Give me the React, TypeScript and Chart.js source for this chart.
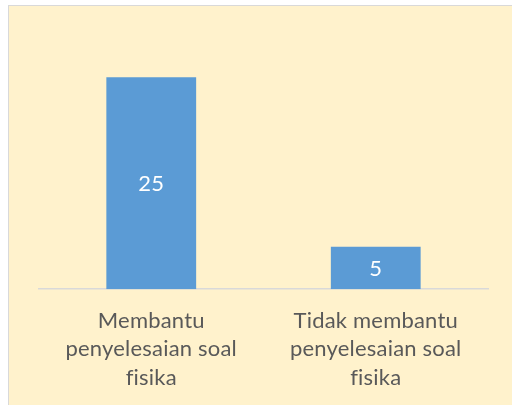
import React, { useEffect, useRef } from "react";
import { Chart, registerables } from "chart.js";

Chart.register(...registerables);

const categories: string[][] = [
  ["Membantu", "penyelesaian soal", "fisika"],
  ["Tidak membantu", "penyelesaian soal", "fisika"],
];
const values: number[] = [25, 5];
const yMax = 30;

const FONT = "Lato, 'Open Sans', sans-serif";

const noLigatures = {
  id: "noLigatures",
  beforeDraw(chart: any) {
    try {
      chart.ctx.letterSpacing = "0.2px";
    } catch (e) {}
  },
};

const valueLabels = {
  id: "valueLabels",
  afterDatasetsDraw(chart: any) {
    const ctx = chart.ctx;
    const meta = chart.getDatasetMeta(0);
    ctx.save();
    ctx.fillStyle = "#FFFFFF";
    ctx.font = `22px ${FONT}`;
    ctx.textAlign = "center";
    ctx.textBaseline = "middle";
    meta.data.forEach((el: any, i: number) => {
      const y = (el.y + el.base) / 2;
      ctx.fillText(String(values[i]), el.x, y + 1);
    });
    ctx.restore();
  },
};

export default function App() {
  const ref = useRef<HTMLCanvasElement | null>(null);
  useEffect(() => {
    if (!ref.current) return;
    const chart = new Chart(ref.current, {
      type: "bar",
      data: {
        labels: categories,
        datasets: [
          {
            data: values,
            backgroundColor: "#5B9BD5",
            borderWidth: 0,
            categoryPercentage: 1,
            barPercentage: 0.4,
          },
        ],
      },
      options: {
        responsive: false,
        animation: false,
        events: [],
        layout: { padding: { left: 39, right: 24, top: 35, bottom: 21 } },
        plugins: { legend: { display: false }, tooltip: { enabled: false } },
        scales: {
          y: { display: false, min: 0, max: yMax },
          x: {
            grid: { display: false, drawTicks: false },
            border: { display: true, color: "#D9D9D9", width: 1.5 },
            ticks: {
              color: "#595959",
              font: { family: FONT, size: 22, lineHeight: 1.3 },
              padding: 17,
              maxRotation: 0,
              autoSkip: false,
            },
          },
        },
      },
      plugins: [noLigatures, valueLabels],
    });
    return () => chart.destroy();
  }, []);
  return (
    <div style={{ position: "fixed", left: 0, top: 0, width: 512, height: 405, overflow: "hidden" }}>
      <div
        style={{
          position: "absolute",
          left: 8,
          top: 5,
          width: 520,
          height: 420,
          background: "#FFF2CC",
          border: "1.5px solid #D9D9D9",
        }}
      />
      <canvas ref={ref} width={512} height={430} style={{ position: "absolute", left: 0, top: 0 }} />
    </div>
  );
}
